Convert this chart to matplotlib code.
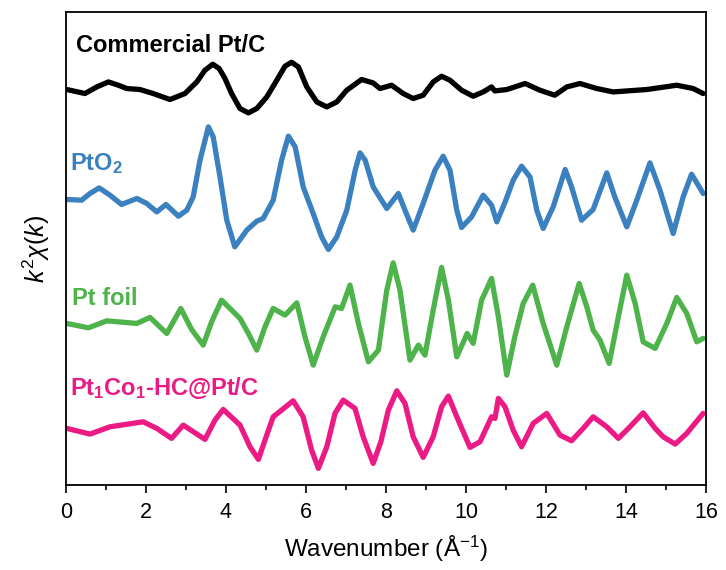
import matplotlib
matplotlib.use('Agg')
import matplotlib.pyplot as plt
import numpy as np

plt.rcParams['font.family'] = ['Liberation Sans', 'DejaVu Sans']
plt.rcParams['mathtext.fontset'] = 'custom'
plt.rcParams['mathtext.rm'] = 'Liberation Sans'
plt.rcParams['mathtext.it'] = 'Liberation Sans:italic'
plt.rcParams['mathtext.bf'] = 'Liberation Sans:bold'

# ---- data (k in 1/A, chi in arbitrary units around each curve's baseline)
k_ptc = [0.02, 0.475, 0.77, 1.06, 1.31, 1.52, 1.85, 2.18, 2.6, 2.975, 3.27, 3.475, 3.67,
         3.83, 3.975, 4.14, 4.35, 4.56, 4.77, 5.02, 5.27, 5.475, 5.64, 5.81, 6.02, 6.27,
         6.52, 6.77, 7.02, 7.39, 7.68, 7.85, 8.14, 8.43, 8.68, 8.93, 9.18, 9.39, 9.6,
         9.89, 10.18, 10.43, 10.64, 10.72, 11.02, 11.48, 11.85, 12.22, 12.52, 12.85,
         13.27, 13.68, 14.52, 15.27, 15.68, 15.93]
chi_ptc = [2.7, -1.3, 5.3, 10.3, 7, 3.7, 2.7, -1.3, -7.3, -1.3, 10.3, 22, 28,
           23.7, 13.7, -1.3, -16.3, -20.7, -16.3, -4.7, 12, 26, 30, 25.3, 5.3, -9.7,
           -14.7, -9.7, 2, 12.7, 9.3, 3.7, 7, -1.3, -6.3, -3, 10.3, 16, 12,
           2, -4, 0.3, 5.3, 1.3, 2.7, 8.7, 2, -3, 5.3, 8.7,
           3.7, 0.3, 2.7, 7, 3.7, -1.3]

k_pto2 = [0.02, 0.39, 0.6, 0.83, 1.1, 1.39, 1.77, 2.02, 2.27, 2.5, 2.81, 3.02, 3.18,
          3.35, 3.56, 3.68, 3.85, 4.02, 4.22, 4.52, 4.77, 4.93, 5.18, 5.39, 5.56, 5.73,
          5.93, 6.18, 6.39, 6.56, 6.77, 7.02, 7.23, 7.35, 7.48, 7.68, 8.02, 8.31, 8.475,
          8.68, 8.93, 9.225, 9.43, 9.6, 9.77, 9.89, 10.14, 10.43, 10.64, 10.77, 10.98,
          11.18, 11.39, 11.6, 11.77, 11.93, 12.18, 12.48, 12.64, 12.89, 13.18, 13.52,
          13.72, 14.02, 14.27, 14.6, 14.85, 15.18, 15.43, 15.64, 15.93]
chi_pto2 = [0.7, 0, 6.7, 12.3, 5, -4.3, 1.7, -3.3, -11.7, -4.3, -16, -10, 3.3,
            40, 73.3, 63.3, 23.3, -20, -46.7, -30, -21, -18.3, 0, 40, 64, 53.3,
            13.3, -13.3, -36.7, -49.3, -36.7, -10, 30, 47.3, 40, 13.3, -8.3, 6.7, -10,
            -30, -3.3, 30, 44, 30, -10, -27.3, -16.7, 5, -5, -21.7, -1.7,
            20, 34, 23.3, -10, -28.3, -6.7, 30.7, 13.3, -20, -9.3, 27.3,
            3.3, -26.7, 0, 37.3, 10, -33.3, 3.3, 26, 6.7]

k_foil = [0.02, 0.56, 1.02, 1.77, 2.1, 2.52, 2.87, 3.14, 3.43, 3.64, 3.89, 4.35, 4.56,
          4.77, 4.975, 5.18, 5.475, 5.77, 5.975, 6.18, 6.43, 6.73, 6.89, 7.1, 7.31, 7.56,
          7.81, 8.02, 8.18, 8.35, 8.6, 8.81, 8.975, 9.18, 9.39, 9.56, 9.77, 10.03, 10.18,
          10.39, 10.64, 10.81, 11.02, 11.22, 11.43, 11.67, 11.93, 12.27, 12.52, 12.83,
          13.02, 13.18, 13.35, 13.58, 13.81, 14.02, 14.23, 14.43, 14.73, 15.02, 15.27,
          15.52, 15.77, 15.93]
chi_foil = [1.7, -2.7, 4.3, 1.7, 7.7, -8.3, 16.7, -4.3, -20, 3.3, 25, 6.7, -8.3,
            -25, -1.7, 16.7, 10, 22.3, -11.7, -40, -11.7, 18.3, 16.7, 40, 1.7, -36.7,
            -25, 35, 62.3, 35, -35, -20, -30, 15, 57.7, 25, -31.7, -8.3, -18.3,
            25, 46.7, 8.3, -50, -11.7, 21.7, 40, 1.7, -40, -1.7, 41.7,
            18.3, -5, -15, -38.3, 8.3, 50, 21.7, -16.7, -23.3, 1.7, 27.7,
            11.7, -16.7, -13.3]

k_ptco = [0.02, 0.6, 1.1, 1.93, 2.27, 2.64, 2.93, 3.475, 3.725, 3.93, 4.35, 4.6, 4.81,
          4.975, 5.18, 5.68, 5.93, 6.14, 6.31, 6.52, 6.725, 6.93, 7.225, 7.43, 7.68,
          7.87, 8.06, 8.27, 8.475, 8.68, 8.93, 9.18, 9.39, 9.56, 9.77, 10.1, 10.35,
          10.64, 10.725, 10.81, 10.975, 11.18, 11.39, 11.68, 12.02, 12.35, 12.64, 12.93,
          13.18, 13.52, 13.81, 14.1, 14.43, 14.73, 14.93, 15.23, 15.52, 15.93]
chi_ptco = [1.7, -4, 3.3, 8.3, 1.7, -8.3, 5, -9.3, 10, 20.7, 5, -16.7, -29.3,
            -10, 13.3, 29.3, 13.3, -20, -38.3, -16.7, 16.7, 30, 21.7, -6.7, -33.3,
            -12, 20, 39.3, 26.7, -6.7, -27.3, -6.7, 23.3, 34, 13.3, -17.3, -11.7,
            13.3, 11.7, 31.7, 23.3, 0, -16.7, 6.7, 16.7, -5, -10.7, 1.7,
            13.3, 3.3, -8.3, 3.3, 17.3, 1.7, -6.7, -14, -3.3, 16.7]

names = ['Commercial Pt/C', r'PtO$_\mathbf{2}$', 'Pt foil',
         r'Pt$_\mathbf{1}$Co$_\mathbf{1}$-HC@Pt/C']
ks = [k_ptc, k_pto2, k_foil, k_ptco]
chis = [chi_ptc, chi_pto2, chi_foil, chi_ptco]
offsets = [0, 108, 233, 338]
colors = ['#000000', '#3b81bf', '#4db34a', '#eb1a84']
label_pos = [(0.25, 47), (0.1, 37), (0.15, 27), (0.1, 42)]

fig = plt.figure(figsize=(7.26, 5.7), dpi=100)
ax = fig.add_axes([0.0909, 0.149, 0.8815, 0.8295])

for name, k, chi, off, col, (lx, ly) in zip(names, ks, chis, offsets, colors, label_pos):
    ax.plot(k, np.array(chi) - off, color=col, lw=3.8,
            solid_joinstyle='round', solid_capstyle='round')
    ax.text(lx, ly - off, name, color=col, fontsize=17, fontweight='bold',
            va='center', ha='left')

ax.set_xlim(0, 16)
ax.set_ylim(-393, 80)
ax.set_xticks(np.arange(0, 17, 2))
ax.set_xticks(np.arange(1, 16, 2), minor=True)
ax.set_yticks([])
ax.tick_params(axis='x', which='major', direction='out', length=6, width=1.2,
               labelsize=15.5, pad=6)
ax.tick_params(axis='x', which='minor', direction='out', length=3.5, width=1.2)
for s in ax.spines.values():
    s.set_linewidth(1.3)

ax.set_xlabel('Wavenumber (Å$^{-1}$)', fontsize=17.5, labelpad=8)
ax.set_ylabel(r'$k^2\chi(k)$', fontsize=18, labelpad=10)

fig.savefig('out.png', dpi=100)
